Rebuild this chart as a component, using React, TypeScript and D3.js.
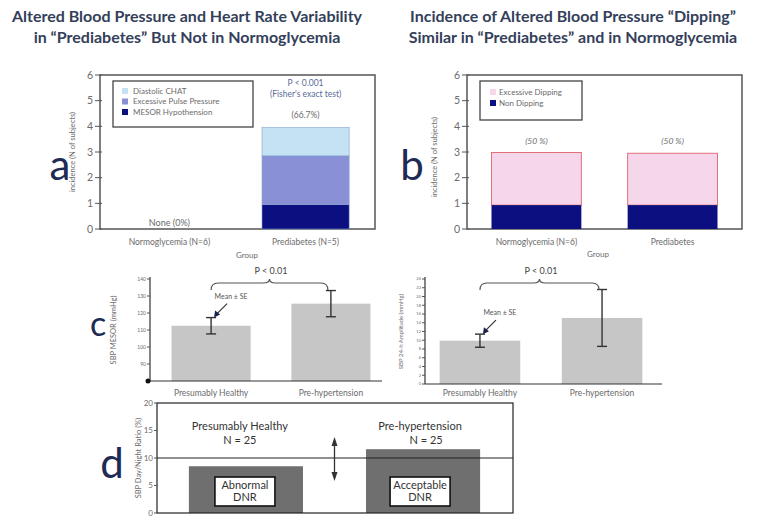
import React from 'react';
import * as d3 from 'd3';

// Panel a: incidence of altered BP / HRV
const groupsA = ['Normoglycemia (N=6)', 'Prediabetes (N=5)'];
const mesorHypotension = [0, 0.95];
const excessivePulse = [0, 1.9];
const diastolicChat = [0, 1.1];
const legendA = ['Diastolic CHAT', 'Excessive Pulse Pressure', 'MESOR  Hypothension'];

// Panel b: dipping
const groupsB = ['Normoglycemia (N=6)', 'Prediabetes'];
const nonDipping = [0.93, 0.93];
const excessiveDipping = [2.05, 2.02];
const legendB = ['Excessive Dipping', 'Non Dipping'];
const pctB = ['(50 %)', '(50 %)'];

// Panel c: SBP MESOR and amplitude
const groupsC = ['Presumably Healthy', 'Pre-hypertension'];
const mesorMean = [112.5, 125.5];
const mesorSE = [4.8, 7.7];
const mesorTicks = [90, 100, 110, 120, 130, 140];
const ampMean = [9.9, 15.1];
const ampSE = [1.5, 6.5];
const ampTicks = [0, 2, 4, 6, 8, 10, 12, 14, 16, 18, 20, 22, 24];

// Panel d: day/night ratio
const groupsD = ['Presumably Healthy', 'Pre-hypertension'];
const dnr = [8.5, 11.6];
const dnrBoxes = [['Abnormal', 'DNR'], ['Acceptable', 'DNR']];
const dnrTicks = [0, 5, 10, 15, 20];
const dnrThreshold = 10;

const FONT = 'Lato, "Open Sans", sans-serif';
const GRAY = '#6b6b6b';
const NAVY = '#0b0f80';
const LETTER = '#1d2b55';

const brace = (x1: number, x2: number, y: number) => {
  const xm = (x1 + x2) / 2;
  return `M${x1},${y + 7} Q${x1},${y} ${x1 + 7},${y} L${xm - 6},${y} Q${xm},${y} ${xm},${y - 4} Q${xm},${y} ${xm + 6},${y} L${x2 - 7},${y} Q${x2},${y} ${x2},${y + 7}`;
};

const PanelA = () => {
  const x = d3.scaleBand().domain(groupsA).range([100, 375]).paddingInner(0.36).paddingOuter(0.19);
  const y = d3.scaleLinear().domain([0, 6]).range([229, 75]);
  const stack = d3.stack<number>().keys([0, 1, 2] as any).value((i: number, k: any) => [mesorHypotension, excessivePulse, diastolicChat][k][i]);
  const layers = stack([0, 1]);
  const colors = [NAVY, '#8a90d6', '#c4e2f3'];
  const legendColors = ['#c4e2f3', '#8a90d6', NAVY];
  return (
    <g fontFamily={FONT}>
      <rect x={100} y={75} width={275} height={154} fill="none" stroke="#555" strokeWidth={1.5} />
      {y.ticks(6).map(t => (
        <g key={t} transform={`translate(100,${y(t)})`}>
          <line x1={-5} x2={2} stroke="#555" />
          <text x={-7} dy="0.35em" textAnchor="end" fontSize={10.5} fill={GRAY}>{t}</text>
        </g>
      ))}
      {layers.map((layer, li) => layer.map((d, gi) => (
        d[1] > d[0] ? <rect key={`${li}-${gi}`} x={x(groupsA[gi])} width={x.bandwidth()} y={y(d[1])} height={y(d[0]) - y(d[1])} fill={colors[li]} stroke="#7f9fd0" strokeWidth={0.6} /> : null
      )))}
      <rect x={113} y={81} width={140} height={46} fill="#fff" stroke="#444" strokeWidth={1.3} />
      {legendA.map((l, i) => (
        <g key={l}>
          <rect x={122} y={88 + i * 10.5} width={6} height={6} fill={legendColors[i]} />
          <text x={133} y={91 + i * 10.5} dy="0.35em" fontSize={8} fill={GRAY}>{l}</text>
        </g>
      ))}
      <text x={x(groupsA[1])! + x.bandwidth() / 2} y={86} textAnchor="middle" fontSize={8.5} fill="#5b6a98">P &lt; 0.001</text>
      <text x={x(groupsA[1])! + x.bandwidth() / 2} y={97} textAnchor="middle" fontSize={8.5} fill="#5b6a98">(Fisher's exact test)</text>
      <text x={x(groupsA[1])! + x.bandwidth() / 2} y={118} textAnchor="middle" fontSize={8.5} fill={GRAY}>(66.7%)</text>
      <text x={x(groupsA[0])! + x.bandwidth() / 2} y={226} textAnchor="middle" fontSize={9} fill={GRAY}>None (0%)</text>
      {groupsA.map(g => (
        <text key={g} x={x(g)! + x.bandwidth() / 2} y={245} textAnchor="middle" fontSize={8.5} fill={GRAY}>{g}</text>
      ))}
      <text x={247} y={258} textAnchor="middle" fontSize={8} fill={GRAY}>Group</text>
      <text transform="translate(75,152) rotate(-90)" textAnchor="middle" fontSize={7.5} fill={GRAY}>incidence (N of subjects)</text>
      <text x={60} y={180} textAnchor="middle" fontSize={42} fill={LETTER}>a</text>
    </g>
  );
};

const PanelB = () => {
  const x = d3.scaleBand().domain(groupsB).range([467, 742]).paddingInner(0.34).paddingOuter(0.18);
  const y = d3.scaleLinear().domain([0, 6]).range([229, 75]);
  return (
    <g fontFamily={FONT}>
      <rect x={467} y={75} width={275} height={154} fill="none" stroke="#555" strokeWidth={1.5} />
      {y.ticks(6).map(t => (
        <g key={t} transform={`translate(467,${y(t)})`}>
          <line x1={-5} x2={2} stroke="#555" />
          <text x={-7} dy="0.35em" textAnchor="end" fontSize={10.5} fill={GRAY}>{t}</text>
        </g>
      ))}
      {groupsB.map((g, i) => (
        <g key={g}>
          <rect x={x(g)} width={x.bandwidth()} y={y(nonDipping[i] + excessiveDipping[i])} height={y(nonDipping[i]) - y(nonDipping[i] + excessiveDipping[i])} fill="#f5d6ea" stroke="#e0707a" strokeWidth={1} />
          <rect x={x(g)} width={x.bandwidth()} y={y(nonDipping[i])} height={y(0) - y(nonDipping[i])} fill={NAVY} />
          <text x={x(g)! + x.bandwidth() / 2} y={144} textAnchor="middle" fontSize={8.5} fontStyle="italic" fill={GRAY}>{pctB[i]}</text>
          <text x={x(g)! + x.bandwidth() / 2} y={245} textAnchor="middle" fontSize={8.5} fill={GRAY}>{g}</text>
        </g>
      ))}
      <rect x={480} y={81} width={102} height={39} fill="#fff" stroke="#444" strokeWidth={1.3} />
      {legendB.map((l, i) => (
        <g key={l}>
          <rect x={490} y={89 + i * 11} width={6} height={6} fill={i === 0 ? '#f5d6ea' : NAVY} />
          <text x={499} y={92 + i * 11} dy="0.35em" fontSize={8} fill={GRAY}>{l}</text>
        </g>
      ))}
      <text x={598} y={257} textAnchor="middle" fontSize={8} fill={GRAY}>Group</text>
      <text transform="translate(437,157) rotate(-90)" textAnchor="middle" fontSize={7.5} fill={GRAY}>incidence (N of subjects)</text>
      <text x={412} y={180} textAnchor="middle" fontSize={42} fill={LETTER}>b</text>
    </g>
  );
};

const ErrBar = ({ cx, lo, hi }: { cx: number; lo: number; hi: number }) => (
  <g stroke="#333" strokeWidth={1.4}>
    <line x1={cx} x2={cx} y1={lo} y2={hi} />
    <line x1={cx - 5} x2={cx + 5} y1={lo} y2={lo} />
    <line x1={cx - 5} x2={cx + 5} y1={hi} y2={hi} />
  </g>
);

const PanelC = ({ left, right, axisEnd, yRange, domain, ticks, means, ses, ylabel, labelX, tickFont, bracketY }: any) => {
  const x = d3.scaleBand().domain(groupsC).range([left, right]).paddingInner(0.34).paddingOuter(left < 300 ? 0.18 : 0.12);
  const y = d3.scaleLinear().domain(domain).range(yRange);
  const c0 = x(groupsC[0])! + x.bandwidth() / 2;
  const c1 = x(groupsC[1])! + x.bandwidth() / 2;
  const arrowTip = y(means[0] + ses[0]);
  return (
    <g fontFamily={FONT}>
      {groupsC.map((g, i) => (
        <rect key={g} x={x(g)} width={x.bandwidth()} y={y(means[i])} height={y(domain[0]) - y(means[i])} fill="#c6c6c6" />
      ))}
      {groupsC.map((g, i) => (
        <ErrBar key={g} cx={x(g)! + x.bandwidth() / 2} lo={y(means[i] - ses[i])} hi={y(means[i] + ses[i])} />
      ))}
      <line x1={left} x2={left} y1={yRange[1] - 2} y2={yRange[0]} stroke="#333" strokeWidth={1.2} />
      <line x1={left} x2={axisEnd} y1={yRange[0]} y2={yRange[0]} stroke="#333" strokeWidth={1.2} />
      {ticks.map((t: number) => (
        <g key={t} transform={`translate(${left},${y(t)})`}>
          <line x1={-3} x2={0} stroke="#555" />
          <text x={-4} dy="0.35em" textAnchor="end" fontSize={tickFont} fill={GRAY}>{t}</text>
        </g>
      ))}
      {groupsC.map(g => (
        <text key={g} x={x(g)! + x.bandwidth() / 2} y={396} textAnchor="middle" fontSize={8.5} fill={GRAY}>{g}</text>
      ))}
      <path d={brace(c0, c1 - 3, bracketY)} fill="none" stroke="#555" strokeWidth={1.2} />
      <text x={(c0 + c1) / 2} y={bracketY - 9} textAnchor="middle" fontSize={9} fill="#444">P &lt; 0.01</text>
      <text x={c0 + 20} y={arrowTip - 19} textAnchor="middle" fontSize={7} fill="#555">Mean ± SE</text>
      <line x1={c0 + 16} y1={arrowTip - 14} x2={c0 + 4} y2={arrowTip - 2} stroke="#333" strokeWidth={1.2} />
      <path d={`M${c0 + 3},${arrowTip} l1,-7 l5,4 z`} fill="#1a2050" />
      <text transform={`translate(${labelX},${(yRange[0] + yRange[1]) / 2}) rotate(-90)`} textAnchor="middle" fontSize={ylabel.length > 20 ? 6 : 7.5} fill={GRAY}>{ylabel}</text>
    </g>
  );
};

const PanelD = () => {
  const x = d3.scaleBand().domain(groupsD).range([157, 512]).paddingInner(0.356).paddingOuter(0.18);
  const y = d3.scaleLinear().domain([0, 20]).range([513, 403]);
  const mid = (x(groupsD[0])! + x(groupsD[1])! + x.bandwidth()) / 2;
  return (
    <g fontFamily={FONT}>
      {groupsD.map((g, i) => (
        <rect key={g} x={x(g)} width={x.bandwidth()} y={y(dnr[i])} height={y(0) - y(dnr[i])} fill="#6f6f6f" />
      ))}
      <line x1={157} x2={513} y1={y(dnrThreshold)} y2={y(dnrThreshold)} stroke="#222" strokeWidth={1.2} />
      <rect x={157} y={403} width={356} height={110} fill="none" stroke="#222" strokeWidth={1.2} />
      {dnrTicks.map(t => (
        <g key={t} transform={`translate(157,${y(t)})`}>
          <line x1={-3} x2={0} stroke="#555" />
          <text x={-4} dy="0.35em" textAnchor="end" fontSize={8} fill={GRAY}>{t}</text>
        </g>
      ))}
      {groupsD.map((g, i) => {
        const cx = x(g)! + x.bandwidth() / 2 - (i === 0 ? 1 : 3);
        return (
          <g key={g}>
            <text x={cx - (i === 0 ? 5 : 0)} y={430} textAnchor="middle" fontSize={11} fill="#333">{g}</text>
            <text x={cx + (i === 0 ? -5 : 6)} y={444} textAnchor="middle" fontSize={11} fill="#333">N = 25</text>
            <rect x={cx - 30} y={477} width={60} height={29} fill="#fff" stroke="#111" strokeWidth={1.6} />
            <text x={cx} y={489} textAnchor="middle" fontSize={11} fill="#333">{dnrBoxes[i][0]}</text>
            <text x={cx} y={501} textAnchor="middle" fontSize={11} fill="#333">{dnrBoxes[i][1]}</text>
          </g>
        );
      })}
      <line x1={mid} x2={mid} y1={440} y2={478} stroke="#333" strokeWidth={1.3} />
      <path d={`M${mid - 3},${446} L${mid},${437} L${mid + 3},${446} z`} fill="#333" />
      <path d={`M${mid - 3},${472} L${mid},${481} L${mid + 3},${472} z`} fill="#333" />
      <text transform="translate(141,458) rotate(-90)" textAnchor="middle" fontSize={7.5} fill={GRAY}>SBP Day/Night Ratio (%)</text>
      <text x={112} y={478} textAnchor="middle" fontSize={42} fill={LETTER}>d</text>
    </g>
  );
};

export default function App() {
  return (
    <svg width={758} height={518} style={{ position: 'fixed', left: 0, top: 0, background: '#fff' }}>
      <rect width={758} height={518} fill="#fff" />
      <g fontFamily={FONT} fontWeight="bold" fontSize={16} fill="#34405a" textAnchor="middle">
        <text x={187} y={22}>Altered Blood Pressure and Heart Rate Variability</text>
        <text x={187} y={43}>in “Prediabetes” But Not in Normoglycemia</text>
        <text x={573} y={22}>Incidence of Altered Blood Pressure “Dipping”</text>
        <text x={573} y={43}>Similar in “Prediabetes” and in Normoglycemia</text>
      </g>
      <PanelA />
      <PanelB />
      <PanelC left={150} right={392} axisEnd={382} yRange={[381, 279]} domain={[80, 140]} ticks={mesorTicks}
        means={mesorMean} ses={mesorSE} ylabel="SBP MESOR (mmHg)" labelX={116} tickFont={5} bracketY={283} />
      <PanelC left={425} right={657} axisEnd={662} yRange={[384, 279]} domain={[0, 24]} ticks={ampTicks}
        means={ampMean} ses={ampSE} ylabel="SBP 24-h Amplitude (mmHg)" labelX={403} tickFont={4} bracketY={283} />
      <circle cx={148} cy={381} r={2.5} fill="#111" />
      <text x={98} y={336} textAnchor="middle" fontSize={34} fontFamily={FONT} fill={LETTER}>c</text>
      <PanelD />
    </svg>
  );
}
